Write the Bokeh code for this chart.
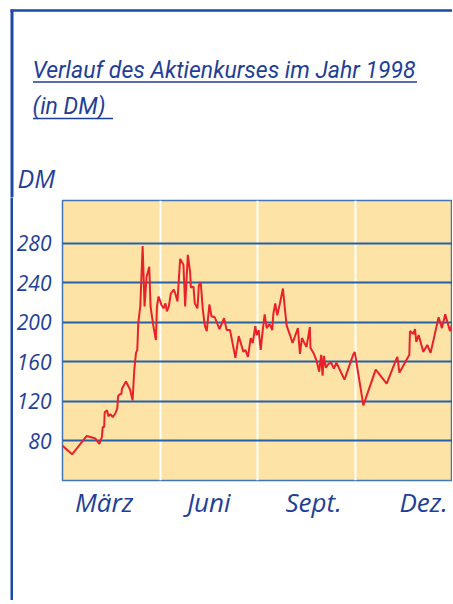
from bokeh.plotting import figure
from bokeh.models import Range1d, FixedTicker
from bokeh.layouts import row, column
from bokeh.embed import file_html
from bokeh.resources import INLINE
from bokeh.core.properties import value

# ---- data ----
title_line1 = "Verlauf des Aktienkurses im Jahr 1998"
title_line2 = "(in DM)"
unit_label = "DM"

day = [0, 9, 22.7, 30.8, 34.5, 36.9, 37.6, 39.0, 39.5, 41.7, 42.9, 44.8, 47, 49.5, 51.3, 52,
       53.2, 55.1, 55.7, 59.4, 63.2, 65.6, 67.2, 68.8, 70, 70.9, 72.8, 75, 76.8, 78.7, 81.2,
       82.4, 84.9, 87.4, 88.4, 89.9,
       92.4, 94.6, 96.4, 97.7, 99.5, 101.4, 104.2, 105.8, 107.6, 110.1, 113.2, 114.8, 117.3,
       119.5, 120.1, 122.6, 123.8, 126.3, 127.6, 129.4, 131.3, 133.1, 135, 137.5, 139.4, 142.5,
       146.9, 151.2, 153.7, 156.8, 161.8, 164.9, 169.3, 171.1, 173.6, 176.1, 178, 180.5,
       181.7, 183.6, 185.5, 187.3, 189.2, 191.1, 193.6, 194.8, 196.3, 197.3, 199.1, 201, 203.5,
       206.3, 207.9, 209.7, 212.9, 215.3, 220.3, 222.2, 224.1, 225.9, 228.4, 231.5, 232.1,
       235.3, 237.8, 240.2, 242.1, 243.4, 244.6, 246.5, 249, 251.5, 254, 256.4, 263.9, 272,
       273.5, 281.6, 293.1, 303.4, 311.8, 313.4, 315.3, 324.6, 325.2, 328.3, 329.9, 331.1,
       333.3, 337.7, 341.4, 344.5, 352, 355.1, 358.2, 362.6, 365]
kurs = [75, 66.5, 85, 82.4, 77, 84, 94, 94, 109, 111, 105, 107, 104, 108, 113, 125,
        127, 127.5, 133, 140, 132, 121, 152, 169, 172, 199, 216, 277, 216, 246, 256,
        216, 197, 182, 216, 226,
        218, 214, 219, 211, 216, 229, 233, 228, 221, 264, 258, 216, 268,
        250, 235, 236, 219, 214, 237, 240, 213, 197, 191, 218, 206, 205,
        193, 204, 192, 192, 164, 186, 170, 172, 165, 184, 179, 196,
        187, 192, 172, 191, 208, 194, 198, 196, 192, 208, 219, 207, 219,
        234, 216, 197, 187, 179, 194, 168, 184, 180, 175, 195, 174,
        168, 161, 150, 167, 146, 166, 154, 158, 159, 153, 159, 142, 167,
        170, 116, 152, 138, 161, 165, 149, 167, 191, 188, 193, 180,
        187, 170, 177, 169, 205, 194, 208, 191, 199]

y_ticks = [80, 120, 160, 200, 240, 280]
quarter_bounds = [91.25, 182.5, 273.75]
month_ticks = [39, 137, 235, 338]
month_labels = ["März", "Juni", "Sept.", "Dez."]

BLUE = "#1f3f98"
FONT = "Open Sans"
BORDER = "#1a4aa3"


def no_align(fig):
    if "frame_align" in fig.properties():
        fig.frame_align = False


# ---- header (title, unit label, box border) ----
head = figure(width=452, height=197, output_backend="svg", toolbar_location=None,
              x_axis_type=None, y_axis_type=None, x_range=Range1d(0, 452), y_range=Range1d(197, 0),
              min_border=0, outline_line_color=None, background_fill_color="white",
              border_fill_color="white")
head.grid.visible = False
no_align(head)
head.segment(x0=[10, 11.5], y0=[10, 9], x1=[452, 11.5], y1=[10, 197],
             line_color=BORDER, line_width=[2.6, 3])
head.text(x=[32, 32], y=[70, 105.5], text=[title_line1, title_line2], text_font=value("Roboto"),
          text_font_style="italic", text_font_size="23px", text_color=BLUE,
          text_baseline="alphabetic")
head.segment(x0=[32.5, 32.5], y0=[81.5, 118], x1=[416.5, 112.5], y1=[81.5, 118],
             line_color=BLUE, line_width=1.4)
head.text(x=[17], y=[177.5], text=[unit_label], text_font=value(FONT),
          text_font_style="italic", text_font_size="25px", text_color=BLUE,
          text_baseline="alphabetic")

# ---- left border strip beside the chart ----
strip = figure(width=13, height=403, output_backend="svg", toolbar_location=None,
               x_axis_type=None, y_axis_type=None, x_range=Range1d(0, 1), y_range=Range1d(0, 1),
               min_border_left=10, min_border_right=0, min_border_top=0, min_border_bottom=0,
               background_fill_color=BORDER, border_fill_color="white", outline_line_color=None)
strip.grid.visible = False
no_align(strip)

# ---- chart ----
p = figure(width=439, height=403, output_backend="svg", toolbar_location=None,
           x_range=Range1d(0, 365), y_range=Range1d(40, 323),
           min_border_left=48, min_border_right=0, min_border_top=3, min_border_bottom=120,
           background_fill_color="#fde4a6", border_fill_color="white",
           outline_line_color="#3f74b8", outline_line_width=1.5)
no_align(p)

p.line(day, kurs, line_color="#e8212b", line_width=2)

p.xgrid.ticker = FixedTicker(ticks=quarter_bounds)
p.xgrid.grid_line_color = "white"
p.xgrid.grid_line_width = 2
p.ygrid.ticker = FixedTicker(ticks=y_ticks)
p.ygrid.grid_line_color = "#2461a8"
p.ygrid.grid_line_width = 1.8

p.yaxis.ticker = FixedTicker(ticks=y_ticks)
p.xaxis.ticker = FixedTicker(ticks=month_ticks)
p.xaxis.major_label_overrides = {t: l for t, l in zip(month_ticks, month_labels)}
for ax in (p.xaxis, p.yaxis):
    ax.axis_line_color = None
    ax.major_tick_line_color = None
    ax.minor_tick_line_color = None
    ax.major_label_text_font = FONT
    ax.major_label_text_font_style = "italic"
    ax.major_label_text_color = BLUE
p.yaxis.major_label_text_font_size = "21px"
p.yaxis.major_label_standoff = 5
p.xaxis.major_label_text_font_size = "26px"
p.xaxis.major_label_standoff = -3

layout = column(head, row(strip, p))
open("out.html", "w").write(file_html(layout, INLINE))
